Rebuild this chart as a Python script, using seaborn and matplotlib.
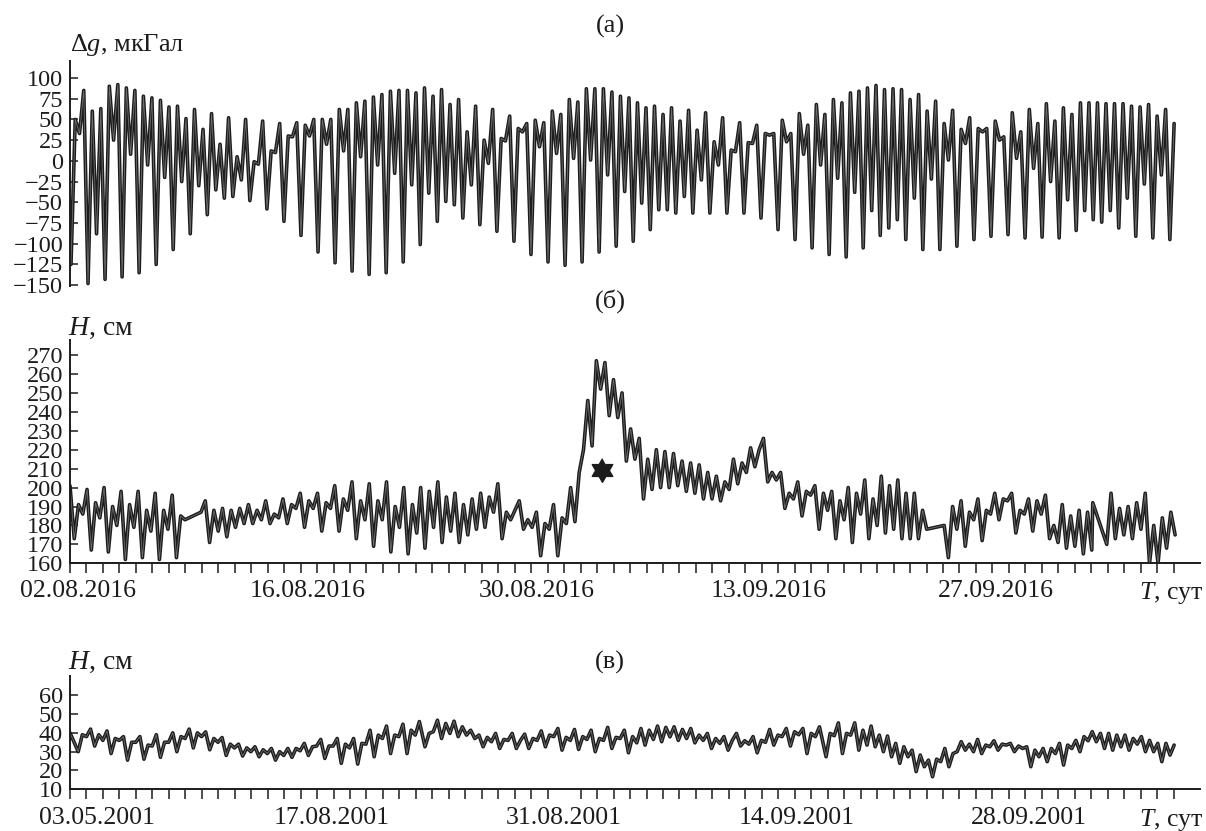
import numpy as np
import matplotlib
matplotlib.use("Agg")
import matplotlib.pyplot as plt
from matplotlib.path import Path
import seaborn as sns

# (а) gravity tide, extremes read every half tidal period
dg_start, dg_end = 0.06, 67.03
dg_values = [-125, 50, 33, 85, -148, 60, -88, 63, -143, 90, 25, 92, -140, 88, 8, 85,
             -135, 78, -5, 76, -125, 73, -20, 65, -107, 66, -25, 51, -88, 62, -30, 38,
             -65, 57, -35, 20, -45, 52, -43, 5, -23, 50, -48, -1, -4, 48, -58, 12,
             10, 45, -73, 30, 29, 46, -90, 43, 30, 50, -110, 50, 20, 50, -123, 62,
             12, 62, -133, 70, 5, 72, -137, 77, -5, 80, -135, 84, -15, 85, -122, 85,
             -29, 82, -101, 88, -39, 78, -73, 86, -49, 68, -53, 74, -69, 35, -29, 66,
             -77, 25, -3, 62, -85, 27, 24, 54, -97, 39, 35, 45, -113, 49, 17, 46,
             -122, 60, 9, 56, -126, 74, 3, 71, -122, 87, 1, 87, -110, 87, -17, 83,
             -103, 78, -37, 76, -97, 70, -51, 64, -83, 66, -59, 56, -59, 64, -63, 48,
             -43, 61, -63, 37, -23, 58, -63, 23, -5, 52, -63, 13, 11, 46, -63, 22,
             21, 43, -69, 33, 31, 33, -83, 49, 23, 33, -95, 57, 8, 43, -105, 68,
             -5, 56, -113, 74, -21, 70, -116, 82, -38, 84, -105, 88, -60, 91, -90, 86,
             -81, 87, -71, 86, -95, 74, -45, 80, -107, 60, -22, 72, -107, 45, 1, 61,
             -103, 38, 21, 52, -95, 39, 35, 39, -91, 48, 25, 29, -89, 58, 3, 35,
             -93, 62, -9, 45, -92, 69, -25, 48, -93, 64, -47, 56, -84, 70, -60, 70,
             -71, 70, -74, 69, -60, 69, -81, 69, -45, 66, -91, 65, -28, 68, -93, 54,
             -17, 62, -95, 45]

# (б) sea level 2016, pieces between gaps (day ranges below)
h16_a = [201, 173, 191, 186, 199, 167, 192, 184, 200, 166, 190, 180, 198, 162, 191, 179,
         198, 163, 188, 177, 197, 162, 188, 178, 196, 163, 185, 183]
h16_b = [187, 193, 171, 188, 177, 189, 174, 188, 179, 189, 181, 191, 181, 188, 183, 193,
         181, 186, 184, 194, 181, 191, 189, 197, 179, 193, 189, 197, 177, 192, 189, 201,
         177, 194, 188, 203, 173, 193, 183, 202, 169, 193, 183, 203, 166, 190, 179, 200,
         165, 191, 176]
h16_c = [200, 168, 198, 179, 203, 171, 195, 177, 197, 171, 191, 175, 194, 178, 197, 179,
         195, 187, 202, 173, 187, 183, 188, 193, 178, 183, 179, 187, 164, 181, 178, 191,
         164, 184, 181, 200, 182, 208, 220, 246, 222, 267, 252, 266, 238, 257, 237, 250,
         214, 231, 215, 226, 194, 215, 199, 220, 200, 219, 200, 218, 201, 214, 198, 213,
         197, 212, 194, 208, 194, 206, 193, 203, 199, 215, 202, 213, 208, 221, 211, 220,
         226, 203, 208, 204, 208, 189, 197, 194, 203, 185, 198, 196, 201, 178]
h16_d = [197, 188, 198, 173, 193, 183, 200, 171, 197, 186, 204, 173, 194, 180, 206, 176,
         201, 178, 204, 173, 197, 173, 197, 173, 188, 178]
h16_e = [180, 163, 190, 178, 193, 169, 187, 183, 194, 172, 188, 186, 197, 183, 194, 193,
         197, 176, 188, 186, 194, 177, 193, 186, 196, 173, 180, 171, 191, 168, 185, 169,
         188, 165, 187, 167]
h16_f = [192]
h16_g = [170, 197, 173, 189, 175, 190, 173, 192, 178, 197, 160, 180, 160, 184, 168, 187, 175]
h16_spans = [(0.00, 6.98), (7.95, 21.05), (21.29, 45.48), (45.74, 52.01),
             (53.07, 62.03), (62.09, 62.09), (62.94, 67.09)]

# (в) sea level 2001
h01_a = [40, 35, 30, 39, 38, 42, 33, 39, 36, 41, 29, 37, 36, 38, 25.5, 35, 35, 38, 26, 33.5,
         33, 39, 27, 35, 35, 40, 30, 38, 37, 42, 32, 40, 38, 40.5, 31, 37, 35, 37.5, 28, 34,
         32, 34, 27.7, 32, 30, 32.6, 27.3, 31, 29, 31.7, 25.5, 30, 28, 31.7, 27, 31.7, 30.5,
         34.4, 28, 32.6, 33, 36.5, 26.4, 33, 33, 37, 23.8, 34, 32, 37, 23.4, 34.4, 34, 41.4,
         27.3, 38.8, 37, 43.6, 29, 38.8, 38, 44.6, 29, 41.4, 38.8, 46]
h01_b = [32.6, 39.7, 40.6, 46.7, 37, 45, 39.7, 46.2, 38, 43.2, 38.8, 41.4, 37, 38.8, 32.6,
         37.6, 35.3, 39.7, 31.7, 36.5, 36, 39.7, 31.7, 36, 39.3, 31.7, 37, 36, 41, 32.6,
         38.8, 38, 42.3, 30.8, 37.6, 36, 41.8, 31.2, 38, 36.5, 41.4, 30, 37, 36, 42.9, 31.7,
         37.6, 37, 41.4, 29.4, 38, 34.7, 42.3, 33.5, 41.4, 36.5, 43.6, 35.3, 42.9, 37.9,
         43.2, 36, 41.8, 37, 42.3, 34.7, 38.8, 36, 39.7, 31.7, 37, 34.4, 38, 30.8, 36, 39.7,
         33, 35.8, 34, 38, 29.4, 36, 35, 41.8, 33.5, 38.8, 38, 42.3, 33, 40.6, 39, 42.3, 29,
         39.7, 38, 43.2]
h01_c = [27.3, 39.7, 38.5, 45.3, 29, 39.7, 38.8, 45.3, 30.8, 41.4, 33.5, 43.6, 32.6, 38.8,
         30, 38.3, 27.3, 34.4, 23.8, 32.6, 27.3, 30.8, 19.4, 28.2, 22, 25.5, 16.7, 26, 24.7,
         31.7, 22, 29, 30, 35.3, 30.8, 34, 30, 36.5, 29, 33.5, 32.6, 35.8, 30.8, 34, 33.5,
         34.4, 30, 33, 31.7, 32.6, 22, 30.8, 27.3, 31.7, 24.7, 31.7, 29, 34.4, 22.9, 33.5,
         31.7, 36, 30, 38, 35.8, 40.6, 35.3, 39.7, 31.7, 39.7, 30.8, 38.8, 32.6, 38.8, 30.8,
         37, 34, 38, 30, 36, 30, 34.4, 24.7, 34.4, 28.2, 33.5]
h01_spans = [(0.00, 21.21), (21.55, 45.50), (45.90, 67.03)]

labels16 = ["02.08.2016", "16.08.2016", "30.08.2016", "13.09.2016", "27.09.2016"]
label16_days = [0.49, 14.45, 28.36, 42.4, 56.2]
labels01 = ["03.05.2001", "17.08.2001", "31.08.2001", "14.09.2001", "28.09.2001"]
label01_days = [1.62, 15.89, 30.0, 44.14, 58.23]
t_label = "$T$, сут"
t_label_day = 66.86

event_day, event_h = 32.28, 209.3

INK = "#1c1c1c"
CORE = "#6f6f6f"


def build(parts, spans):
    t, v = [], []
    for vals, (d0, d1) in zip(parts, spans):
        t.extend(np.linspace(d0, d1, len(vals)))
        v.extend(vals)
    return np.array(t), np.array(v)


def draw(ax, t, v):
    sns.lineplot(x=t, y=v, ax=ax, color=INK, lw=2.6, estimator=None, sort=False,
                 solid_joinstyle="round")
    sns.lineplot(x=t, y=v, ax=ax, color=CORE, lw=0.6, estimator=None, sort=False,
                 solid_joinstyle="round")


sns.set_theme(style="ticks")
plt.rcParams["font.family"] = ["Liberation Serif", "DejaVu Serif"]
plt.rcParams["mathtext.fontset"] = "custom"
plt.rcParams["mathtext.rm"] = "Liberation Serif"
plt.rcParams["mathtext.it"] = "Liberation Serif:italic"

fig = plt.figure(figsize=(12.06, 8.31), dpi=100)
ax_a = fig.add_axes([0.05804, 0.65584, 0.93698, 0.27028])
ax_b = fig.add_axes([0.05804, 0.32214, 0.93698, 0.26883])
ax_c = fig.add_axes([0.05804, 0.05018, 0.93698, 0.13586])

t_a = np.linspace(dg_start, dg_end, len(dg_values))
draw(ax_a, t_a, np.array(dg_values))
t_b, v_b = build([h16_a, h16_b, h16_c, h16_d, h16_e, h16_f, h16_g], h16_spans)
draw(ax_b, t_b, v_b)
t_c, v_c = build([h01_a, h01_b, h01_c], h01_spans)
draw(ax_c, t_c, v_c)

# six-pointed star marking the event
ang = np.deg2rad(90 + 30 * np.arange(12))
rad = np.where(np.arange(12) % 2 == 0, 1.0, 1 / np.sqrt(3))
star = Path(np.column_stack([rad * np.cos(ang), rad * np.sin(ang)]))
ax_b.plot([event_day], [event_h], marker=star, ms=17, color=INK, ls="none")

ax_a.set_ylim(-151, 120)
ax_a.set_yticks(np.arange(-150, 101, 25))
ax_b.set_ylim(160, 278)
ax_b.set_yticks(np.arange(160, 271, 10))
ax_c.set_ylim(10, 70)
ax_c.set_yticks(np.arange(10, 61, 10))

for ax in (ax_a, ax_b, ax_c):
    ax.set_xlim(0, 68.6)
    ax.set_xlabel("")
    ax.set_ylabel("")
    ax.spines[["top", "right"]].set_visible(False)
    for s in ("left", "bottom"):
        ax.spines[s].set_linewidth(1.4)
        ax.spines[s].set_color(INK)
    ax.tick_params(axis="y", direction="in", length=6, width=1.1, color=INK,
                   labelsize=17.5, pad=5, labelcolor=INK)

ax_a.spines["bottom"].set_visible(False)
ax_a.set_xticks([])

for ax, labs, days, gap in ((ax_b, labels16, label16_days, 12),
                            (ax_c, labels01, label01_days, 12.5)):
    ax.set_xticks(days + [t_label_day], labs + [t_label])
    ax.set_xticks(np.arange(0, 68), minor=True)
    ax.tick_params(axis="x", which="major", length=0, labelsize=18.5, pad=gap,
                   labelcolor=INK)
    ax.tick_params(axis="x", which="minor", direction="out", length=7, width=1.1,
                   color=INK)

fig.text(0.506, 0.968, "(а)", ha="center", va="center", fontsize=19, color=INK)
fig.text(0.506, 0.638, "(б)", ha="center", va="center", fontsize=19, color=INK)
fig.text(0.506, 0.2034, "(в)", ha="center", va="center", fontsize=19, color=INK)
fig.text(0.0580, 0.946, "Δ$g$, мкГал", ha="left", va="center", fontsize=19, color=INK)
fig.text(0.0565, 0.6053, "$H$, см", ha="left", va="center", fontsize=20, color=INK)
fig.text(0.0565, 0.2034, "$H$, см", ha="left", va="center", fontsize=20, color=INK)

fig.savefig("out.png", dpi=100)
